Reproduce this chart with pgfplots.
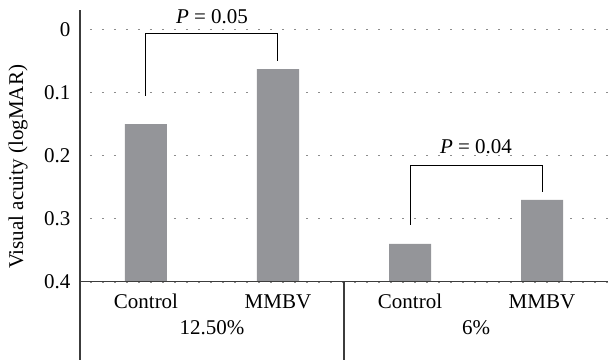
\documentclass[border=0pt]{standalone}
\usepackage{fontspec}
\setmainfont{Liberation Serif}
\usepackage{pgfplots}
\pgfplotsset{compat=1.18}
\definecolor{barfill}{RGB}{148,149,153}
\definecolor{axisline}{RGB}{60,60,60}
\definecolor{gridgray}{RGB}{140,140,140}

\begin{document}
\begin{tikzpicture}[font=\fontsize{10.5bp}{12.6bp}\selectfont]
\begin{axis}[
  scale only axis, width=264bp, height=126.1bp,
  xmin=-0.5, xmax=3.5, ymin=0, ymax=0.4,
  y dir=reverse,
  % shift the bar base to 0.4 so the bars rise from the bottom of the reversed axis
  y coord trafo/.code={\pgfmathparse{#1-0.4}},
  y coord inv trafo/.code={\pgfmathparse{#1+0.4}},
  ybar, bar width=21bp,
  axis line style={draw=none},
  major tick length=0pt,
  xtick={0,1,2,3}, xticklabels={Control,MMBV,Control,MMBV},
  xticklabel style={anchor=base, yshift=-13.2bp},
  ytick={0,0.1,0.2,0.3,0.4}, yticklabels={0,0.1,0.2,0.3,0.4},
  yticklabel style={anchor=east, xshift=-1.3bp},
  ymajorgrids,
  grid style={gridgray, line width=0.8bp, dash pattern=on 0.8bp off 5.2bp, dash phase=-5bp},
  clip=false,
]
\addplot[fill=barfill, draw=none] coordinates {(0,0.15) (1,0.063) (2,0.34) (3,0.27)};

% frame lines
\draw[axisline, line width=0.7bp] (axis description cs:0,1.077) -- (axis description cs:0,-0.31);
\draw[axisline, line width=0.7bp] (axis description cs:0,0) -- (axis description cs:1,0);
\draw[axisline, line width=0.7bp] (axis description cs:0.5,0) -- (axis description cs:0.5,-0.31);

% group labels
\node[anchor=base] at (axis description cs:0.25,-0.211) {12.50\%};
\node[anchor=base] at (axis description cs:0.75,-0.211) {6\%};

% y label
\node[rotate=90] at (axis description cs:-0.117,0.455) {Visual acuity (logMAR)};

% significance brackets
\draw[black, line width=0.5bp] (axis cs:0,0.105) |- (axis cs:1,0.007) -- (axis cs:1,0.05);
\node[anchor=base] at (axis cs:0.5,-0.0098) {\textit{P} = 0.05};
\draw[black, line width=0.5bp] (axis cs:2,0.31) |- (axis cs:3,0.215) -- (axis cs:3,0.257);
\node[anchor=base] at (axis cs:2.5,0.1965) {\textit{P} = 0.04};

\coordinate (bbSW) at (axis description cs:-0.1515,-0.318);
\coordinate (bbNE) at (axis description cs:1,1.117);
\end{axis}
\pgfresetboundingbox
\path (bbSW) rectangle (bbNE);
\end{tikzpicture}
\end{document}
